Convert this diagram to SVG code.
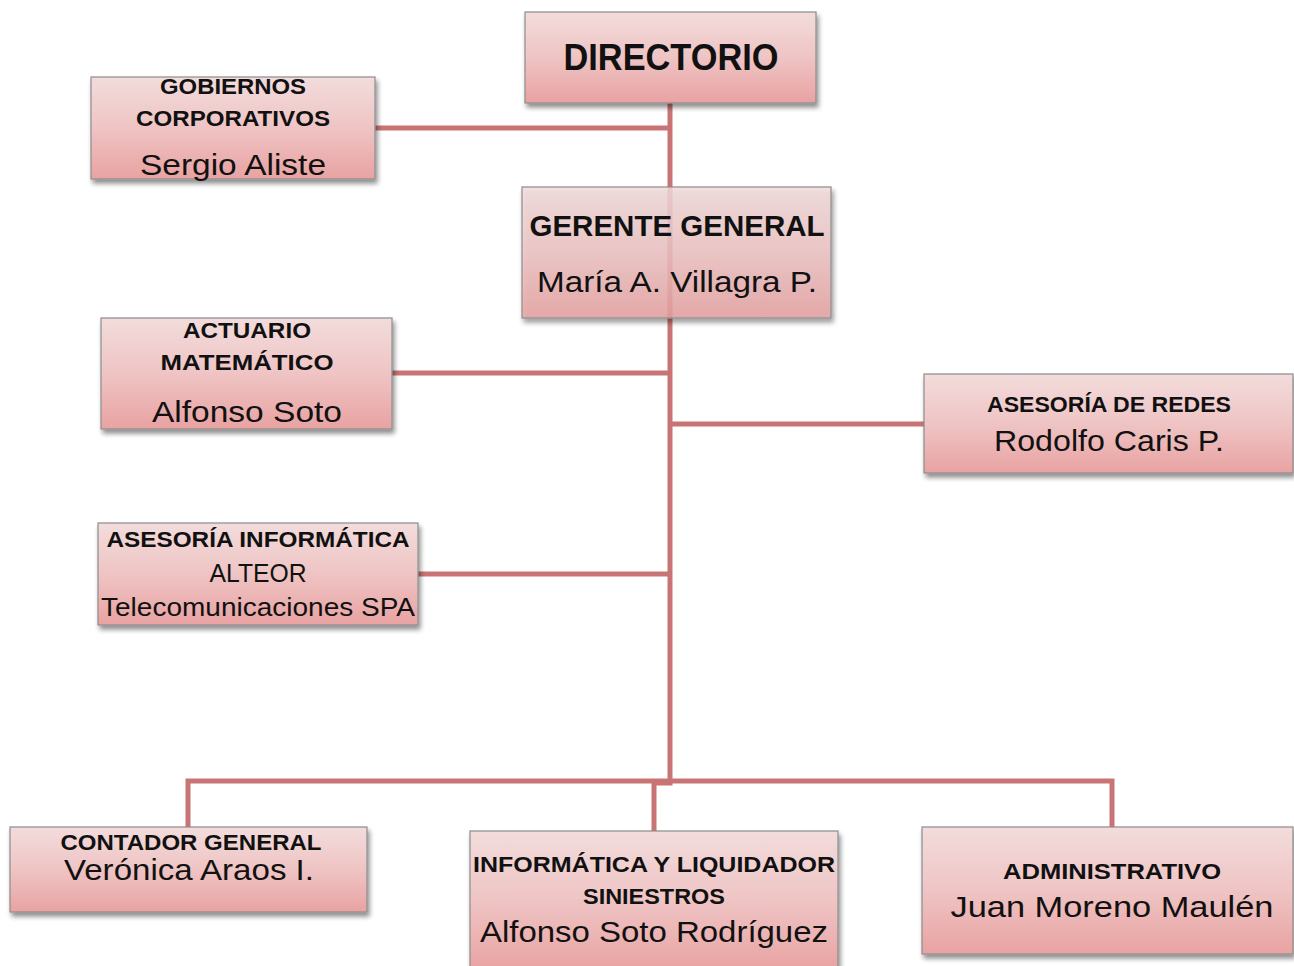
<svg xmlns="http://www.w3.org/2000/svg" width="1294" height="966" viewBox="0 0 1294 966">
<defs>
<linearGradient id="g" x1="0" y1="0" x2="0" y2="1">
<stop offset="0" stop-color="#f3dcdc"/>
<stop offset="0.5" stop-color="#efc4c4"/>
<stop offset="1" stop-color="#e9a2a2"/>
</linearGradient>
<filter id="sh" x="-5%" y="-5%" width="115%" height="125%">
<feGaussianBlur in="SourceAlpha" stdDeviation="2.5"/>
<feOffset dx="2" dy="4" result="b"/>
<feComponentTransfer><feFuncA type="linear" slope="0.45"/></feComponentTransfer>
<feMerge><feMergeNode/><feMergeNode in="SourceGraphic"/></feMerge>
</filter>
</defs>
<style>
.box{fill:url(#g);stroke:#8c8c8c;stroke-width:1.2;filter:url(#sh)}
.ln{stroke:#c87474;stroke-width:5;fill:none}
text{font-family:"Liberation Sans",Arial,sans-serif;fill:#111;text-anchor:middle}
.b{font-weight:bold}
</style>
<g id="connectors">
<path class="ln" d="M670 103 V783 H654 V831"/>
<path class="ln" d="M375 128 H670"/>
<path class="ln" d="M392 373 H670"/>
<path class="ln" d="M670 424 H924"/>
<path class="ln" d="M418 574 H670"/>
<path class="ln" d="M188 827 V781 H1112 V827"/>
</g>
<g id="directorio">
<rect class="box" x="525" y="12" width="291" height="91"/>
<text class="b" x="671" y="70" font-size="36" textLength="215" lengthAdjust="spacingAndGlyphs">DIRECTORIO</text>
</g>
<g id="gobiernos">
<rect class="box" x="91" y="77" width="284" height="102"/>
<text class="b" x="233" y="94" font-size="22" textLength="146" lengthAdjust="spacingAndGlyphs">GOBIERNOS</text>
<text class="b" x="233" y="126" font-size="22" textLength="194" lengthAdjust="spacingAndGlyphs">CORPORATIVOS</text>
<text x="233" y="175" font-size="30" textLength="186" lengthAdjust="spacingAndGlyphs">Sergio Aliste</text>
</g>
<g id="gerente">
<rect class="box" x="522" y="187" width="309" height="131" fill-opacity="0.85" style="fill-opacity:0.82"/>
<text class="b" x="677" y="236" font-size="30" textLength="295" lengthAdjust="spacingAndGlyphs">GERENTE GENERAL</text>
<text x="677" y="292" font-size="30" textLength="280" lengthAdjust="spacingAndGlyphs">María A. Villagra P.</text>
</g>
<g id="actuario">
<rect class="box" x="101" y="318" width="291" height="111"/>
<text class="b" x="247" y="338" font-size="22" textLength="128" lengthAdjust="spacingAndGlyphs">ACTUARIO</text>
<text class="b" x="247" y="370" font-size="22" textLength="173" lengthAdjust="spacingAndGlyphs">MATEMÁTICO</text>
<text x="247" y="422" font-size="30" textLength="190" lengthAdjust="spacingAndGlyphs">Alfonso Soto</text>
</g>
<g id="redes">
<rect class="box" x="924" y="374" width="369" height="99"/>
<text class="b" x="1109" y="412" font-size="22" textLength="244" lengthAdjust="spacingAndGlyphs">ASESORÍA DE REDES</text>
<text x="1109" y="451" font-size="30" textLength="230" lengthAdjust="spacingAndGlyphs">Rodolfo Caris P.</text>
</g>
<g id="asesoria-informatica">
<rect class="box" x="98" y="523" width="320" height="102"/>
<text class="b" x="258" y="547" font-size="22" textLength="303" lengthAdjust="spacingAndGlyphs">ASESORÍA INFORMÁTICA</text>
<text x="258" y="582" font-size="26" textLength="97" lengthAdjust="spacingAndGlyphs">ALTEOR</text>
<text x="258" y="616" font-size="26" textLength="314" lengthAdjust="spacingAndGlyphs">Telecomunicaciones SPA</text>
</g>
<g id="contador">
<rect class="box" x="10" y="827" width="357" height="85"/>
<text class="b" x="191" y="850" font-size="22" textLength="261" lengthAdjust="spacingAndGlyphs">CONTADOR GENERAL</text>
<text x="189" y="880" font-size="30" textLength="250" lengthAdjust="spacingAndGlyphs">Verónica Araos I.</text>
</g>
<g id="informatica-liquidador">
<rect class="box" x="470" y="831" width="368" height="140"/>
<text class="b" x="654" y="872" font-size="22" textLength="362" lengthAdjust="spacingAndGlyphs">INFORMÁTICA Y LIQUIDADOR</text>
<text class="b" x="654" y="904" font-size="22" textLength="142" lengthAdjust="spacingAndGlyphs">SINIESTROS</text>
<text x="654" y="942" font-size="30" textLength="348" lengthAdjust="spacingAndGlyphs">Alfonso Soto Rodríguez</text>
</g>
<g id="administrativo">
<rect class="box" x="922" y="827" width="371" height="127"/>
<text class="b" x="1112" y="879" font-size="22" textLength="218" lengthAdjust="spacingAndGlyphs">ADMINISTRATIVO</text>
<text x="1112" y="917" font-size="30" textLength="323" lengthAdjust="spacingAndGlyphs">Juan Moreno Maulén</text>
</g>
</svg>
